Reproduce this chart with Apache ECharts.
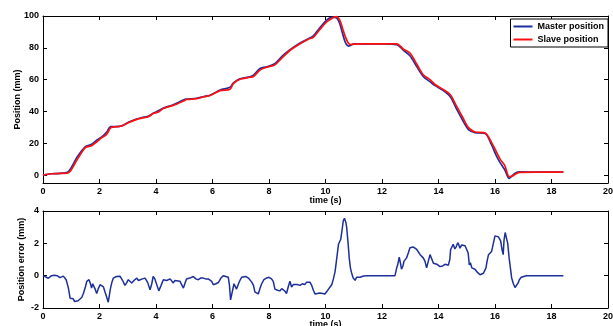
<!DOCTYPE html>
<html>
<head>
<meta charset="utf-8">
<script src="https://cdn.jsdelivr.net/npm/echarts@6/dist/echarts.min.js"></script>
<style>
    html, body { margin: 0; padding: 0; background: #fff; }
    #chartDiv { width: 613px; height: 326px; }
</style>
</head>
<body>
<div id="chartDiv"></div>
<script>

/*位置曲线 时间轴 (s)*/
var posTime = [0, 0.3, 0.6, 0.9, 1.2, 1.5, 1.72, 1.9, 2.08, 2.25, 2.4, 2.6, 2.78, 3.02, 3.32, 3.5, 3.73, 3.9,
    4.08, 4.26, 4.61, 4.97, 5.08, 5.44, 5.7, 5.91, 6.27, 6.62, 6.74, 6.97, 7.33, 7.45, 7.68, 7.92, 8.2, 8.45,
    8.72, 9.07, 9.39, 9.57, 9.8, 10.04, 10.25, 10.4, 10.5, 10.6, 10.7, 10.81, 10.9, 11.0, 11.2, 11.6, 12.0,
    12.52, 12.76, 12.99, 13.23, 13.46, 13.7, 13.88, 14.15, 14.41, 14.64, 14.85, 15.06, 15.29, 15.65, 15.88,
    16.05, 16.18, 16.35, 16.5, 16.6, 16.71, 16.88, 17.5, 18.42];

var masterPos = [0, 0.8, 1.1, 2.2, 11.1, 17.9, 19.3, 21.9, 24.0, 26.9, 30.5, 30.5, 30.9, 33.2, 35.2, 36.2, 37.0, 38.8,
    40.4, 42.2, 44.2, 47.2, 47.7, 48.3, 49.4, 50.2, 53.5, 55.2, 58.0, 60.5, 61.8, 62.8, 67.0, 68.0, 70.0, 74.5,
    78.5, 82.8, 85.7, 87.5, 92.6, 97.4, 99.3, 98.6, 95.4, 89.3, 83.5, 81.1, 81.7, 82.5, 82.5, 82.5, 82.5,
    82.0, 78.4, 75.0, 68.2, 62.0, 58.7, 56.2, 53.4, 49.4, 41.5, 34.6, 28.6, 26.7, 26.1, 18.9,
    12.0, 7.8, 3.2, -2.1, -0.6, 1.1, 1.95, 1.8, 1.8];

var slavePos = [0, 0.8, 1.0, 1.5, 9.5, 17.3, 18.5, 20.8, 23.5, 25.6, 29.8, 30.4, 30.8, 32.9, 35.0, 35.8, 36.7, 38.7,
    39.6, 41.9, 43.8, 46.5, 47.5, 48.0, 49.2, 50.0, 53.1, 54.0, 57.5, 60.2, 61.5, 62.0, 66.0, 67.8, 69.2, 73.5,
    78.0, 82.2, 85.4, 86.6, 91.5, 96.3, 98.8, 99.6, 97.5, 92.5, 87.0, 82.9, 82.0, 82.3, 82.5, 82.5, 82.5,
    82.5, 79.2, 76.7, 69.8, 63.1, 60.0, 56.9, 54.0, 50.6, 43.3, 36.5, 29.8, 27.1, 26.4, 20.4,
    14.5, 10.0, 5.8, -1.0, -0.8, 0.4, 1.7, 1.8, 1.8];

/*位置误差 (mm)*/
var errTime = [0, 0.07, 0.19, 0.3, 0.4, 0.5, 0.6, 0.72, 0.82, 0.9, 0.96, 1.02, 1.07, 1.12, 1.17, 1.24, 1.31, 1.37,
    1.43, 1.5, 1.55, 1.63, 1.68, 1.72, 1.76, 1.8, 1.85, 1.9, 1.96, 2.02, 2.08, 2.14, 2.19, 2.25, 2.31, 2.35,
    2.39, 2.44, 2.49, 2.6, 2.73, 2.82, 2.9, 2.96, 3.02, 3.08, 3.14, 3.22, 3.32, 3.38, 3.44, 3.52, 3.61, 3.7,
    3.79, 3.85, 3.9, 3.96, 4.02, 4.1, 4.18, 4.26, 4.38, 4.5, 4.56, 4.61, 4.67, 4.73, 4.85, 4.97, 5.02, 5.08,
    5.2, 5.32, 5.41, 5.5, 5.58, 5.67, 5.76, 5.85, 5.91, 5.97, 6.03, 6.12, 6.21, 6.3, 6.38, 6.47, 6.56, 6.6,
    6.64, 6.7, 6.76, 6.8, 6.85, 6.92, 6.97, 7.03, 7.09, 7.18, 7.27, 7.33, 7.39, 7.45, 7.5, 7.56, 7.62, 7.68,
    7.74, 7.82, 7.92, 8.0, 8.09, 8.15, 8.21, 8.3, 8.39, 8.45, 8.5, 8.56, 8.62, 8.68, 8.74, 8.8, 8.86, 8.92,
    9.0, 9.1, 9.18, 9.27, 9.33, 9.39, 9.45, 9.51, 9.57, 9.63, 9.7, 9.8, 9.9, 9.98, 10.04, 10.1, 10.16, 10.22,
    10.28, 10.34, 10.4, 10.46, 10.5, 10.54, 10.6, 10.63, 10.67, 10.72, 10.75, 10.8, 10.84, 10.88, 10.92,
    10.98, 11.05, 11.1, 11.17, 11.22, 11.28, 11.35, 11.46, 12.46, 12.52, 12.56, 12.61, 12.65, 12.69, 12.74,
    12.78, 12.87, 12.93, 12.99, 13.05, 13.11, 13.17, 13.23, 13.29, 13.35, 13.41, 13.46, 13.52, 13.58, 13.64,
    13.7, 13.76, 13.82, 13.88, 13.94, 14.0, 14.05, 14.15, 14.23, 14.35, 14.4, 14.43, 14.48, 14.52, 14.58,
    14.63, 14.68, 14.72, 14.76, 14.82, 14.88, 14.94, 15.0, 15.05, 15.09, 15.13, 15.18, 15.23, 15.29, 15.38,
    15.47, 15.53, 15.59, 15.64, 15.68, 15.72, 15.77, 15.82, 15.88, 15.93, 16.0, 16.06, 16.12, 16.17, 16.2,
    16.25, 16.29, 16.32, 16.36, 16.41, 16.45, 16.5, 16.55, 16.59, 16.65, 16.71, 16.77, 16.82, 16.86, 16.93,
    17.0, 17.11, 18.42];

var posError = [0, -0.05, -0.16, 0, 0.02, 0, -0.12, -0.03, -0.25, -0.77, -1.4, -1.3, -1.43, -1.6, -1.71, -1.55, -1.5, -1.35,
    -1.1, -0.7, -0.35, -0.25, -0.5, -0.77, -0.5, -0.6, -0.85, -1.1, -0.8, -0.56, -0.45, -0.7, -0.98, -1.3, -1.64, -1.2,
    -0.77, -0.4, -0.15, -0.05, -0.04, -0.3, -0.6, -0.45, -0.25, -0.35, -0.45, -0.3, -0.15, -0.3, -0.3, -0.2, -0.15, -0.4,
    -0.87, -0.5, -0.05, -0.2, -0.3, -0.94, -0.6, -0.25, -0.3, -0.2, -0.3, -0.45, -0.3, -0.2, -0.35, -0.77, -0.5, -0.2,
    -0.15, -0.05, -0.2, -0.25, -0.15, -0.15, -0.2, -0.2, -0.14, -0.35, -0.56, -0.5, -0.42, -0.15, 0, -0.05, -0.1, -0.6,
    -1.5, -1.0, -0.5, -0.6, -0.83, -0.5, -0.3, -0.1, 0, -0.05, -0.15, -0.25, -0.4, -0.6, -1.0, -1.05, -1.13, -0.8,
    -0.5, -0.25, -0.14, -0.1, -0.2, -0.35, -0.83, -0.9, -0.94, -0.8, -0.85, -0.95, -1.1, -0.7, -0.35, -0.7, -0.55, -0.5,
    -0.55, -0.6, -0.5, -0.55, -0.4, -0.3, -0.4, -0.6, -0.9, -1.13, -1.05, -1.07, -1.1, -1.13, -1.0, -0.85, -0.7, -0.56,
    -0.2, 0.27, 1.1, 1.94, 2.1, 2.25, 3.0, 3.4, 3.55, 3.3, 2.98, 2.0, 1.1, 0.5, 0.2,
    -0.15, -0.29, -0.1, 0, -0.1, -0.05, -0.02, 0, 0, 0.48, 0.7, 1.15, 0.8, 0.4, 0.6,
    0.9, 1.1, 1.4, 1.73, 1.7, 1.77, 1.7, 1.62, 1.5, 1.3, 1.2, 1.1, 0.9, 0.48, 0.9,
    1.3, 1.4, 0.77, 0.7, 0.71, 0.6, 0.56, 0.6, 0.7, 0.65, 1.0, 1.62, 1.7, 1.94, 1.65,
    1.8, 2.04, 1.9, 1.7, 1.9, 1.9, 1.85, 1.85, 1.4, 0.67, 0.8, 0.48, 0.55, 0.4, 0.2,
    0.06, 0.05, 0.15, 0.25, 0.48, 0.9, 1.3, 1.4, 1.5, 1.9, 2.46, 2.45, 2.4, 2.3, 2.15,
    1.6, 1.3, 2.2, 2.67, 2.77, 2.0, 1.1, 0.4, -0.14, -0.5, -0.73, -0.7, -0.45, -0.25, -0.1,
    0, 0, 0];

var posTicks = [0, 20, 40, 60, 80, 100];
var seriesNames = ['Master position', 'Slave position'];


function pairUp(xs, ys) {
    var out = [];
    for (var i = 0; i < xs.length; i++) {
        out.push([xs[i], ys[i]]);
    }
    return out;
}

function boxAxis(pos, gridIndex, extra) {
    var axis = {
        gridIndex: gridIndex,
        position: pos,
        type: 'value',
        nameMoveOverlap: false,
        axisLine: {show: true, onZero: false, lineStyle: {color: '#000', width: 1}},
        axisTick: {show: true, inside: true, length: 4, lineStyle: {color: '#000'}},
        axisLabel: {show: false},
        splitLine: {show: false}
    };
    for (var k in extra) {
        axis[k] = extra[k];
    }
    return axis;
}

var labelFont = {color: '#000', fontWeight: 'bold', fontSize: 9, fontFamily: 'Liberation Sans'};

function loadPositionChart() {

    var chart = echarts.init(document.getElementById('chartDiv'));

    var xBase = {min: 0, max: 20, interval: 2};

    var option = {
        animation: false,
        textStyle: {fontFamily: 'Liberation Sans'},
        grid: [
            {left: 43, right: 5, top: 16, height: 167, containLabel: false, outerBoundsMode: 'none'},
            {left: 43, right: 5, top: 211, height: 97, containLabel: false, outerBoundsMode: 'none'}
        ],
        legend: {
            data: seriesNames,
            orient: 'vertical',
            right: 5,
            top: 19,
            padding: [2, 4, 2, 3],
            itemGap: 2,
            itemWidth: 19,
            itemHeight: 2,
            icon: 'rect',
            backgroundColor: '#fff',
            borderColor: '#000',
            borderWidth: 1,
            borderRadius: 0,
            textStyle: {color: '#000', fontWeight: 'bold', fontSize: 9, fontFamily: 'Liberation Sans', lineHeight: 11}
        },
        xAxis: [
            boxAxis('bottom', 0, {min: 0, max: 20, interval: 2,
                axisLabel: Object.assign({show: true, margin: 4}, labelFont),
                name: 'time (s)', nameLocation: 'middle', nameGap: 13,
                nameTextStyle: labelFont}),
            boxAxis('top', 0, xBase),
            boxAxis('bottom', 1, {min: 0, max: 20, interval: 2,
                axisLabel: Object.assign({show: true, margin: 4}, labelFont),
                name: 'time (s)', nameLocation: 'middle', nameGap: 12,
                nameTextStyle: labelFont}),
            boxAxis('top', 1, xBase)
        ],
        yAxis: [
            boxAxis('left', 0, {min: -5, max: 100,
                axisTick: {show: true, inside: true, length: 4, lineStyle: {color: '#000'}, customValues: posTicks},
                axisLabel: Object.assign({show: true, margin: 4, customValues: posTicks}, labelFont),
                name: 'Position (mm)', nameLocation: 'middle', nameGap: 21,
                nameTextStyle: labelFont}),
            boxAxis('right', 0, {min: -5, max: 100,
                axisTick: {show: true, inside: true, length: 4, lineStyle: {color: '#000'}, customValues: posTicks}}),
            boxAxis('left', 1, {min: -2, max: 4, interval: 2,
                axisLabel: Object.assign({show: true, margin: 4}, labelFont),
                name: 'Position error (mm)', nameLocation: 'middle', nameGap: 17,
                nameTextStyle: labelFont}),
            boxAxis('right', 1, {min: -2, max: 4, interval: 2})
        ],
        color: ['#1c2f9c', '#ff1010'],
        series: [
            {
                name: seriesNames[0],
                type: 'line',
                xAxisIndex: 0,
                yAxisIndex: 0,
                showSymbol: false,
                smooth: 0.3,
                lineStyle: {width: 1.7},
                data: pairUp(posTime, masterPos)
            },
            {
                name: seriesNames[1],
                type: 'line',
                xAxisIndex: 0,
                yAxisIndex: 0,
                showSymbol: false,
                smooth: 0.3,
                lineStyle: {width: 1.7},
                data: pairUp(posTime, slavePos)
            },
            {
                name: 'Position error',
                type: 'line',
                xAxisIndex: 2,
                yAxisIndex: 2,
                showSymbol: false,
                lineStyle: {width: 1.5, color: '#1c2f9c'},
                itemStyle: {color: '#1c2f9c'},
                data: pairUp(errTime, posError)
            }
        ]
    };

    chart.setOption(option);
}

loadPositionChart();

</script>
</body>
</html>
